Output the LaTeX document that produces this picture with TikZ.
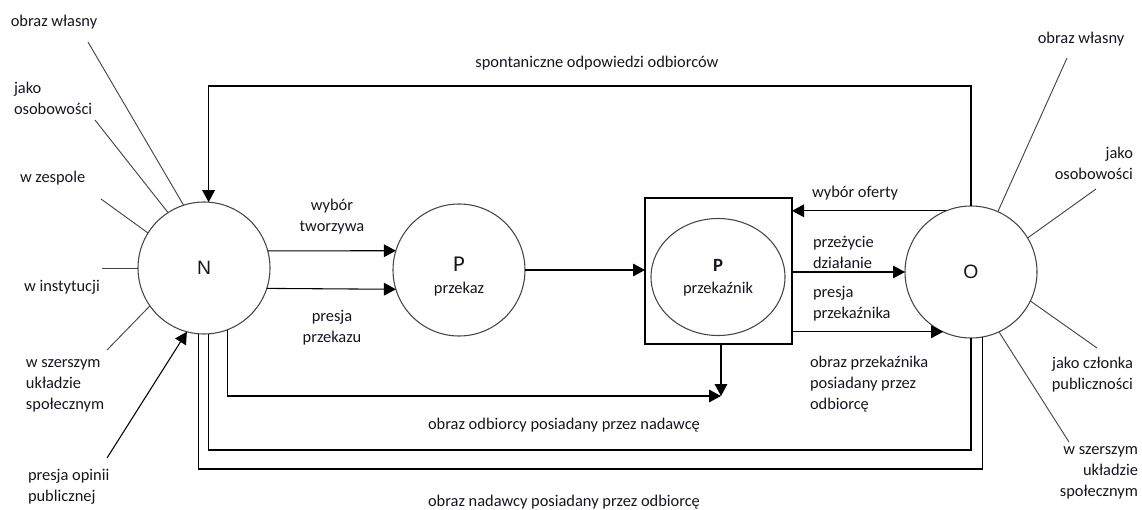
\documentclass[tikz,border=0pt]{standalone}
\usepackage{fontspec}
\setmainfont{Carlito}
\newfontfamily\letterfont{Liberation Sans}
\usetikzlibrary{arrows.meta,shapes.geometric,calc}
\definecolor{ink}{HTML}{15151F}
\definecolor{rim}{HTML}{454545}

\begin{document}
\begin{tikzpicture}[x=0.75pt,y=-0.75pt,
  every node/.style={inner sep=0pt,outer sep=0pt},
  lbl/.style={font=\fontsize{12.3}{15.6}\selectfont,text=ink},
  bigletter/.style={font=\letterfont\fontsize{14.5}{14.5}\selectfont,text=ink},
  circ/.style={circle,draw=rim,line width=0.8pt,minimum size=99pt},
  arr/.style={draw=black,line width=0.8pt,-{Triangle[length=9pt,width=9.5pt]}},
  conn/.style={draw=black,line width=0.8pt},
  spoke/.style={draw=rim,line width=0.7pt},
]
\useasboundingbox (0,0) rectangle (1142,510);

% main actors
\node[circ,bigletter] (N) at (204,268) {N};
\node[circ] (P1) at (459,270) {};
\node[text=ink,font=\fontsize{17}{17}\selectfont] (P1a) at (459,264) {P};
\node[lbl] (P1b) at (459,289) {przekaz};
\node[draw=black,line width=0.8pt,minimum width=110.25pt,minimum height=109.5pt] (B) at (718.5,271) {};
\node[ellipse,draw=rim,line width=0.8pt,minimum width=100.5pt,minimum height=87.75pt] (E) at (718,277) {};
\node[text=ink,font=\bfseries\fontsize{14}{14}\selectfont] (Ea) at (718,265) {P};
\node[lbl] (Eb) at (718,289) {przekaźnik};
\node[circ,bigletter] (O) at (971,272) {O};

% helper levels
\coordinate (top) at (0,86);
\coordinate (y1) at (0,450);
\coordinate (y2) at (0,469);
\coordinate (J) at (721,396);

% connectors
\draw[arr] (O.north) -- (O.north |- top) -| (N.86);
\draw[arr] (O.112) -- (O.112 -| B.east);
\draw[arr] (N.15) -- (P1.163);
\draw[arr] (N.-18) -- (P1.197);
\draw[arr] (P1.east) -- (P1.east -| B.west);
\draw[arr] (B.east |- O.west) -- (O.west);
\draw[arr] (B.east |- O.245) -- (O.245);
\draw[arr] (B.south -| J) -- (J);
\draw[arr] (N.-69) |- (J);
\draw[conn] (N.-86) -- (N.-86 |- y1) -| (O.south);
\draw[conn] (N.-95) -- (N.-95 |- y2) -| (O.-80);

% spokes around N
\coordinate (l1) at (88,42);
\coordinate (l2) at (95,120);
\coordinate (l3) at (101,199);
\coordinate (l4) at (102,268);
\coordinate (l5) at (107,350);
\coordinate (l6) at (107,458);
\draw[spoke] (l1) -- (N.108);
\draw[spoke] (l2) -- (N.123);
\draw[spoke] (l3) -- (N.148);
\draw[spoke] (l4) -- (N.west);
\draw[spoke] (l5) -- (N.215);
\draw[arr] (l6) -- (N.255);

% spokes around O
\coordinate (r1) at (1067,58);
\coordinate (r2) at (1096,189);
\coordinate (r3) at (1097,348);
\coordinate (r4) at (1069,442);
\draw[spoke] (r1) -- (O.66);
\draw[spoke] (r2) -- (O.31);
\draw[spoke] (r3) -- (O.-26);
\draw[spoke] (r4) -- (O.-65);

% left labels
\node[lbl] (tl1) at (54,22) {obraz własny};
\node[lbl,align=left,anchor=west] (tl2) at (14,98) {jako\\osobowości};
\node[lbl,anchor=west] (tl3) at (20,178) {w zespole};
\node[lbl] (tl4) at (62,287) {w instytucji};
\node[lbl,align=left,anchor=west] (tl5) at (26,386) {w szerszym\\układzie\\społecznym};
\node[lbl,align=left,anchor=west] (tl6) at (28,487) {presja opinii\\publicznej};

% right labels
\node[lbl] (tr1) at (1081,39) {obraz własny};
\node[lbl,align=right,anchor=east] (tr2) at (1133,163) {jako\\osobowości};
\node[lbl,align=right,anchor=east] (tr3) at (1133,375) {jako członka\\publiczności};
\node[lbl,align=right,anchor=east] (tr4) at (1138,473) {w szerszym\\układzie\\społecznym};

% connector labels
\node[lbl] (c1) at (597,63) {spontaniczne odpowiedzi odbiorców};
\node[lbl,align=center] (c2) at (332,217) {wybór\\tworzywa};
\node[lbl,align=center] (c3) at (332,328) {presja\\przekazu};
\node[lbl] (c4) at (855,193) {wybór oferty};
\node[lbl,align=left,anchor=west] (c5) at (813,252) {przeżycie\\działanie};
\node[lbl,align=left,anchor=west] (c6) at (813,304) {presja\\przekaźnika};
\node[lbl,align=left,anchor=west] (c7) at (810,384) {obraz przekaźnika\\posiadany przez\\odbiorcę};
\node[lbl] (c8) at (564,425) {obraz odbiorcy posiadany przez nadawcę};
\node[lbl] (c9) at (564,502) {obraz nadawcy posiadany przez odbiorcę};
\end{tikzpicture}
\end{document}
